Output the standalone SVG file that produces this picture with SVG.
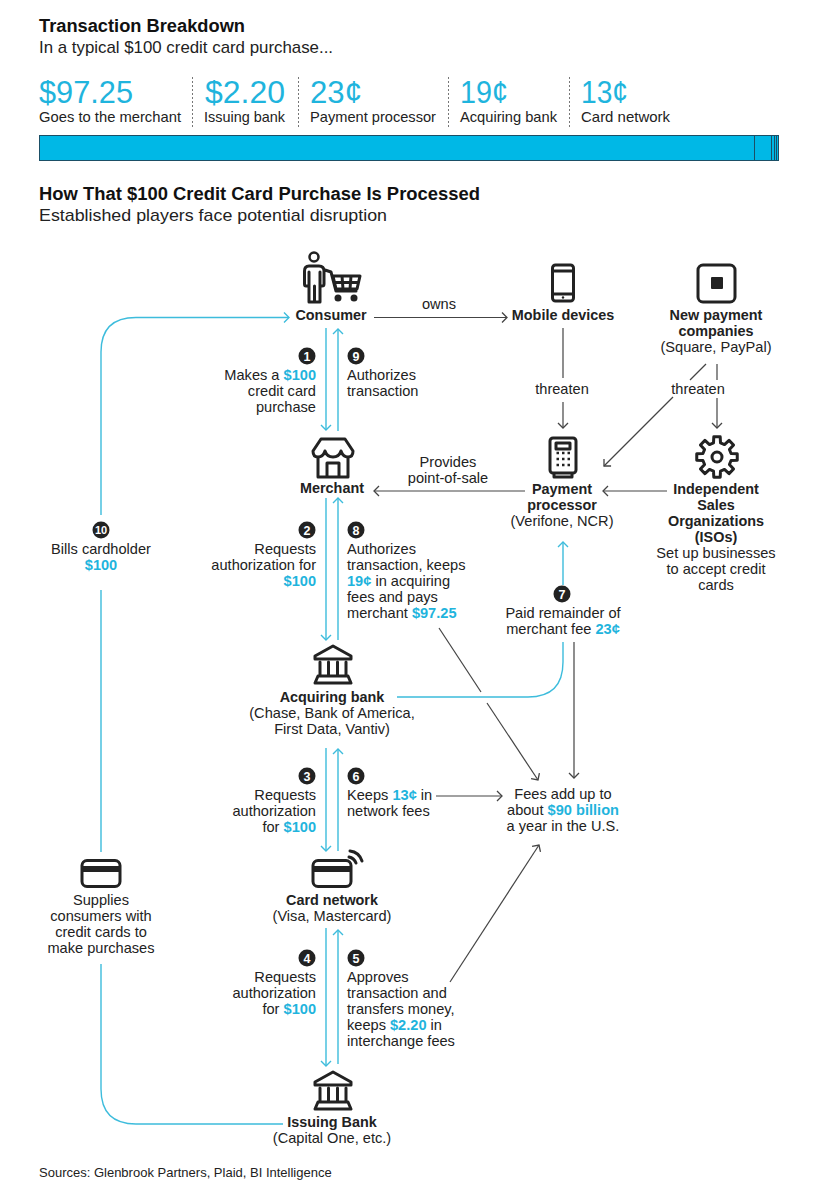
<svg xmlns="http://www.w3.org/2000/svg" width="824" height="1187" viewBox="0 0 824 1187">
<style>
text{font-family:"Liberation Sans",Arial,sans-serif;font-size:14.6px;fill:#222}
.b{font-weight:700;font-size:14.4px}
.c{text-anchor:middle}
.r{text-anchor:end}
.t{font-size:18px;font-weight:700;fill:#111}
.s{font-size:17px}
.n{font-size:31px;fill:#1fb4dd}
.hl{font-weight:700;fill:#1fb4dd}
.bn{font-size:12.5px;font-weight:700;fill:#fff;text-anchor:middle}
.lb{fill:none;stroke:#3dbcdc;stroke-width:1.4}
.lg{fill:none;stroke:#444;stroke-width:1.2}
.ic{fill:none;stroke:#222;stroke-width:3;stroke-linejoin:round;stroke-linecap:round}
.f{fill:#222;stroke:none}
.sep{stroke:#777;stroke-width:1;stroke-dasharray:2 2}
.bd{stroke:#1b4f66;stroke-width:1}
</style>
<defs>
<marker id="ab" markerUnits="userSpaceOnUse" markerWidth="14" markerHeight="14" refX="7" refY="7" orient="auto"><path d="M2 2L7 7L2 12" fill="none" stroke="#3dbcdc" stroke-width="1.4"/></marker>
<marker id="ag" markerUnits="userSpaceOnUse" markerWidth="14" markerHeight="14" refX="7" refY="7" orient="auto"><path d="M2 2L7 7L2 12" fill="none" stroke="#444" stroke-width="1.3"/></marker>
<g id="bank"><path class="ic" d="M-18 -9L0 -19L18 -9V-6H-18Z"/><path class="ic" d="M-13 -3V10M-4.500 -3V10M4.500 -3V10M13 -3V10"/><path class="ic" d="M-15 11H15L18 18H-18Z"/></g>
<g id="cardi"><rect class="ic" x="-19" y="-12.500" width="38" height="26" rx="5"/><rect class="f" x="-19" y="-7" width="38" height="6"/></g>
</defs>

<g id="header">
<text class="t" x="39" y="32" textLength="206" lengthAdjust="spacingAndGlyphs">Transaction Breakdown</text>
<text class="s" x="39" y="53" textLength="294" lengthAdjust="spacingAndGlyphs">In a typical $100 credit card purchase...</text>
<text class="t" x="39" y="200" textLength="441" lengthAdjust="spacingAndGlyphs">How That $100 Credit Card Purchase Is Processed</text>
<text class="s" x="39" y="221" textLength="348" lengthAdjust="spacingAndGlyphs">Established players face potential disruption</text>
<text x="39" y="1177" style="font-size:13px">Sources: Glenbrook Partners, Plaid, BI Intelligence</text>
</g>

<g id="breakdown">
<text class="n" x="39" y="103" textLength="94" lengthAdjust="spacingAndGlyphs">$97.25</text><text x="39" y="122" textLength="142" lengthAdjust="spacingAndGlyphs">Goes to the merchant</text>
<text class="n" x="205" y="103" textLength="80" lengthAdjust="spacingAndGlyphs">$2.20</text><text x="204" y="122" textLength="81" lengthAdjust="spacingAndGlyphs">Issuing bank</text>
<text class="n" x="310" y="103" textLength="52" lengthAdjust="spacingAndGlyphs">23¢</text><text x="310" y="122" textLength="126" lengthAdjust="spacingAndGlyphs">Payment processor</text>
<text class="n" x="460" y="103" textLength="48" lengthAdjust="spacingAndGlyphs">19¢</text><text x="460" y="122" textLength="97" lengthAdjust="spacingAndGlyphs">Acquiring bank</text>
<text class="n" x="581" y="103" textLength="47" lengthAdjust="spacingAndGlyphs">13¢</text><text x="581" y="122" textLength="89" lengthAdjust="spacingAndGlyphs">Card network</text>
<path class="sep" d="M192.500 77V127M298.500 77V127M448.500 77V127M569.500 77V127"/>
<rect x="39.500" y="135.500" width="739" height="25" fill="#00b8e6" stroke="#1b4f66" stroke-width="1"/>
<path class="bd" d="M754.500 136V160M771.500 136V160M774.500 136V160M776.500 136V160"/>
</g>

<g id="connectors">
<path class="lb" marker-end="url(#ab)" d="M101 515V352Q101 317.500 136 317.500H289"/>
<path class="lb" d="M101 590V852M101 964V1089Q101 1124 136 1124H283"/>
<path class="lb" marker-end="url(#ab)" d="M326 328V430"/>
<path class="lb" marker-end="url(#ab)" d="M338 431V329"/>
<path class="lb" marker-end="url(#ab)" d="M326 498V640"/>
<path class="lb" marker-end="url(#ab)" d="M338 640V498"/>
<path class="lb" marker-end="url(#ab)" d="M326 748V851"/>
<path class="lb" marker-end="url(#ab)" d="M338 851V749"/>
<path class="lb" marker-end="url(#ab)" d="M326 928V1066"/>
<path class="lb" marker-end="url(#ab)" d="M338 1064V930"/>
<path class="lb" d="M397 697H528Q563 697 563 662V642"/>
<path class="lb" marker-end="url(#ab)" d="M563 585V542"/>
<path class="lg" marker-end="url(#ag)" d="M374 317.500H507"/>
<path class="lg" marker-end="url(#ag)" d="M525 491H374"/>
<path class="lg" marker-end="url(#ag)" d="M667 491H603"/>
<path class="lg" d="M563 328V378"/>
<path class="lg" marker-end="url(#ag)" d="M563 402V428"/>
<path class="lg" d="M717 364V380"/>
<path class="lg" marker-end="url(#ag)" d="M717 398V428"/>
<path class="lg" d="M706 364L690 380"/>
<path class="lg" marker-end="url(#ag)" d="M673 397L604 466"/>
<path class="lg" d="M439 628L481 692"/>
<path class="lg" marker-end="url(#ag)" d="M487 703L538 780"/>
<path class="lg" marker-end="url(#ag)" d="M574 642V778"/>
<path class="lg" marker-end="url(#ag)" d="M436 796H502"/>
<path class="lg" marker-end="url(#ag)" d="M450 982L539 845"/>
</g>

<g id="consumer">
<circle cx="314" cy="257" r="4.500" fill="none" stroke="#222" stroke-width="2.500"/>
<path class="ic" stroke-width="2.500" d="M325 270L331 272L336 291H356M309 286H306Q304.500 286 304.500 284V271Q304.500 266 309 266H319Q324 266 324 271V284Q324 286 322 286H320M309 272V302H320V272M314.500 286V302"/>
<path class="ic" d="M333 276H360L357 289H336ZM342 276L343 289M351 276L350 289M335 282.500H358"/>
<circle class="f" cx="338" cy="298" r="3.500"/><circle class="f" cx="354" cy="298" r="3.500"/>
<text class="b c" x="331" y="320">Consumer</text>
</g>
<g id="mobile">
<rect class="ic" x="552.500" y="265" width="21" height="36" rx="3"/>
<path class="ic" stroke-width="2" d="M553 271H573M553 294H573"/><circle class="f" cx="563" cy="297.500" r="1.200"/>
<text class="b c" x="563" y="320">Mobile devices</text>
</g>
<g id="newpay">
<rect class="ic" x="698" y="265" width="37" height="37" rx="5"/><rect class="f" x="711" y="277" width="12" height="12" rx="1"/>
<text class="b c" x="716" y="320">New payment</text><text class="b c" x="716" y="336">companies</text><text class="c" x="716" y="352">(Square, PayPal)</text>
</g>
<g id="merchant">
<path class="ic" d="M321 439H345L353 451Q353 457 348 457Q343 457 341 451Q339 457 333 457Q327 457 325 451Q323 457 318 457Q313 457 313 451Z"/>
<path class="ic" d="M318 458V477H348V458M327 477V463H339V477"/>
<text class="b c" x="332" y="493">Merchant</text>
</g>
<g id="processor">
<rect class="ic" x="550" y="438" width="26" height="35" rx="3"/>
<rect class="ic" stroke-width="2" x="556" y="443" width="14" height="6"/>
<path d="M556.500 453H570M556.500 459H570M556.500 465H570" stroke="#222" stroke-width="2.500" stroke-dasharray="2.500 3" fill="none"/>
<path class="ic" stroke-width="2.500" d="M554 474V477H572V474"/>
<text class="b c" x="562" y="494">Payment</text><text class="b c" x="562" y="510">processor</text><text class="c" x="562" y="526">(Verifone, NCR)</text>
</g>
<g id="iso">
<path class="ic" stroke-width="2.800" transform="translate(717 457)" d="M-3.500 -14.070L-3.200 -20.250L3.200 -20.250L3.500 -14.070L7.470 -12.420L12.060 -16.580L16.580 -12.060L12.420 -7.470L14.070 -3.500L20.250 -3.200L20.250 3.200L14.070 3.500L12.420 7.470L16.580 12.060L12.060 16.580L7.470 12.420L3.500 14.070L3.200 20.250L-3.200 20.250L-3.500 14.070L-7.470 12.420L-12.060 16.580L-16.580 12.060L-12.420 7.470L-14.070 3.500L-20.250 3.200L-20.250 -3.200L-14.070 -3.500L-12.420 -7.470L-16.580 -12.060L-12.060 -16.580L-7.470 -12.420Z"/>
<circle class="ic" cx="717" cy="457" r="5"/>
<text class="b c" x="716" y="494">Independent</text><text class="b c" x="716" y="510">Sales</text><text class="b c" x="716" y="526">Organizations</text><text class="b c" x="716" y="542">(ISOs)</text>
<text class="c" x="716" y="558">Set up businesses</text><text class="c" x="716" y="574">to accept credit</text><text class="c" x="716" y="590">cards</text>
</g>
<g id="acquiring">
<use href="#bank" x="333" y="665"/>
<text class="b c" x="332" y="702">Acquiring bank</text><text class="c" x="332" y="718">(Chase, Bank of America,</text><text class="c" x="332" y="734">First Data, Vantiv)</text>
</g>
<g id="network">
<use href="#cardi" x="332" y="873"/>
<path class="ic" stroke-width="2.500" d="M349 857Q354 858 356 863M350 851Q359 852 362 861"/>
<text class="b c" x="332" y="905">Card network</text><text class="c" x="332" y="921">(Visa, Mastercard)</text>
</g>
<g id="issuing">
<use href="#bank" x="333" y="1091"/>
<text class="b c" x="332" y="1127">Issuing Bank</text><text class="c" x="332" y="1143">(Capital One, etc.)</text>
</g>
<g id="supplier">
<use href="#cardi" x="101" y="873"/>
<text class="c" x="101" y="905">Supplies</text><text class="c" x="101" y="921">consumers with</text><text class="c" x="101" y="937">credit cards to</text><text class="c" x="101" y="953">make purchases</text>
</g>
<g id="fees">
<text class="c" x="563" y="799">Fees add up to</text>
<text class="c" x="563" y="815">about <tspan class="hl">$90 billion</tspan></text>
<text class="c" x="563" y="831">a year in the U.S.</text>
</g>

<g id="labels">
<text class="c" x="439" y="309">owns</text>
<text class="c" x="448" y="467">Provides</text><text class="c" x="448" y="483">point-of-sale</text>
<text class="c" x="562" y="394">threaten</text><text class="c" x="698" y="394">threaten</text>

<circle class="f" cx="307" cy="356" r="8.500"/><text class="bn" x="307" y="360.500">1</text>
<text class="r" x="316" y="380">Makes a <tspan class="hl">$100</tspan></text><text class="r" x="316" y="396">credit card</text><text class="r" x="316" y="412">purchase</text>
<circle class="f" cx="356" cy="356" r="8.500"/><text class="bn" x="356" y="360.500">9</text>
<text x="347" y="380">Authorizes</text><text x="347" y="396">transaction</text>

<circle class="f" cx="307" cy="530" r="8.500"/><text class="bn" x="307" y="534.500">2</text>
<text class="r" x="316" y="554">Requests</text><text class="r" x="316" y="570">authorization for</text><text class="r hl" x="316" y="586">$100</text>
<circle class="f" cx="356" cy="530" r="8.500"/><text class="bn" x="356" y="534.500">8</text>
<text x="347" y="554">Authorizes</text><text x="347" y="570">transaction, keeps</text><text x="347" y="586"><tspan class="hl">19¢</tspan> in acquiring</text><text x="347" y="602">fees and pays</text><text x="347" y="618">merchant <tspan class="hl">$97.25</tspan></text>

<circle class="f" cx="307" cy="776" r="8.500"/><text class="bn" x="307" y="780.500">3</text>
<text class="r" x="316" y="800">Requests</text><text class="r" x="316" y="816">authorization</text><text class="r" x="316" y="832">for <tspan class="hl">$100</tspan></text>
<circle class="f" cx="356" cy="776" r="8.500"/><text class="bn" x="356" y="780.500">6</text>
<text x="347" y="800">Keeps <tspan class="hl">13¢</tspan> in</text><text x="347" y="816">network fees</text>

<circle class="f" cx="307" cy="958" r="8.500"/><text class="bn" x="307" y="962.500">4</text>
<text class="r" x="316" y="982">Requests</text><text class="r" x="316" y="998">authorization</text><text class="r" x="316" y="1014">for <tspan class="hl">$100</tspan></text>
<circle class="f" cx="356" cy="958" r="8.500"/><text class="bn" x="356" y="962.500">5</text>
<text x="347" y="982">Approves</text><text x="347" y="998">transaction and</text><text x="347" y="1014">transfers money,</text><text x="347" y="1030">keeps <tspan class="hl">$2.20</tspan> in</text><text x="347" y="1046">interchange fees</text>

<circle class="f" cx="562" cy="594" r="8.500"/><text class="bn" x="562" y="598.500">7</text>
<text class="c" x="563" y="618">Paid remainder of</text><text class="c" x="563" y="634">merchant fee <tspan class="hl">23¢</tspan></text>

<circle class="f" cx="101" cy="530" r="8.500"/><text class="bn" x="101" y="534" style="font-size:11px">10</text>
<text class="c" x="101" y="554">Bills cardholder</text><text class="c hl" x="101" y="570">$100</text>
</g>
</svg>
